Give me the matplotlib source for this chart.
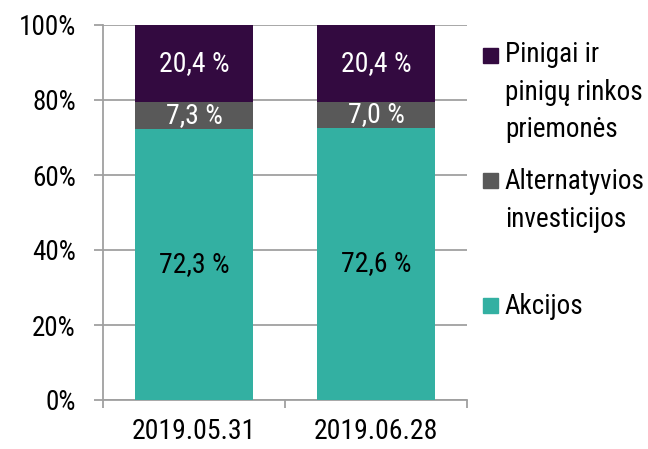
import numpy as np
import matplotlib
matplotlib.use("Agg")
import matplotlib.pyplot as plt
from matplotlib.patches import Rectangle

plt.rcParams['font.family'] = ['Roboto Condensed', 'Liberation Sans', 'DejaVu Sans']

categories = ['2019.05.31', '2019.06.28']
akcijos = [72.3, 72.6]
alternatyvios = [7.3, 7.0]
pinigai = [20.4, 20.4]
series_names = ['Akcijos', 'Alternatyvios\ninvesticijos', 'Pinigai ir\npinigų rinkos\npriemonės']
series_colors = ['#33b0a2', '#595959', '#330a40']
label_colors = ['black', 'white', 'white']
yticks = [0, 20, 40, 60, 80, 100]

grid_col = '#a0a0a0'

fig = plt.figure(figsize=(6.48, 4.49), dpi=100)
ax = fig.add_axes([103 / 648, 49 / 449, 364 / 648, 375 / 449])

x = np.arange(len(categories))
bottom = np.zeros(len(categories))
for vals, name, col, lcol in zip([akcijos, alternatyvios, pinigai],
                                 series_names, series_colors, label_colors):
    bars = ax.bar(x, vals, width=0.65, bottom=bottom, color=col, zorder=3)
    ax.bar_label(bars, labels=[('%.1f %%' % v).replace('.', ',') for v in vals],
                 label_type='center', color=lcol, fontsize=20, zorder=4)
    bottom += np.array(vals)

ax.set_xlim(-0.5, 1.5)
ax.set_ylim(0, 100)
ax.set_yticks(yticks)
ax.set_yticklabels(['%d%%' % t for t in yticks], fontsize=19.5)
ax.set_xticks(x)
ax.set_xticklabels(categories, fontsize=20)
ax.set_xticks([-0.5, 0.5, 1.5], minor=True)
ax.tick_params(axis='x', which='major', length=0, pad=13)
ax.tick_params(axis='x', which='minor', length=6, width=1.3, color=grid_col)
ax.tick_params(axis='y', length=6.5, width=1.3, color=grid_col, pad=13)
ax.yaxis.grid(True, color=grid_col, linewidth=1.3, zorder=0)
for s in ['top', 'right']:
    ax.spines[s].set_visible(False)
for s in ['left', 'bottom']:
    ax.spines[s].set_color(grid_col)
    ax.spines[s].set_linewidth(1.3)

# legend, drawn by hand so the squares sit on the first text line
leg_sq = [0.232, 0.565, 0.899]
leg_txt = [0.285, 0.618, 0.957]
for name, col, yb, yt in zip(series_names, series_colors, leg_sq, leg_txt):
    ax.add_patch(Rectangle((1.044, yb), 0.041, 0.04, transform=ax.transAxes,
                           color=col, clip_on=False))
    ax.text(1.104, yt, name, transform=ax.transAxes, fontsize=19.5,
            va='top', ha='left', linespacing=1.5)

fig.savefig('out.png', dpi=100)
